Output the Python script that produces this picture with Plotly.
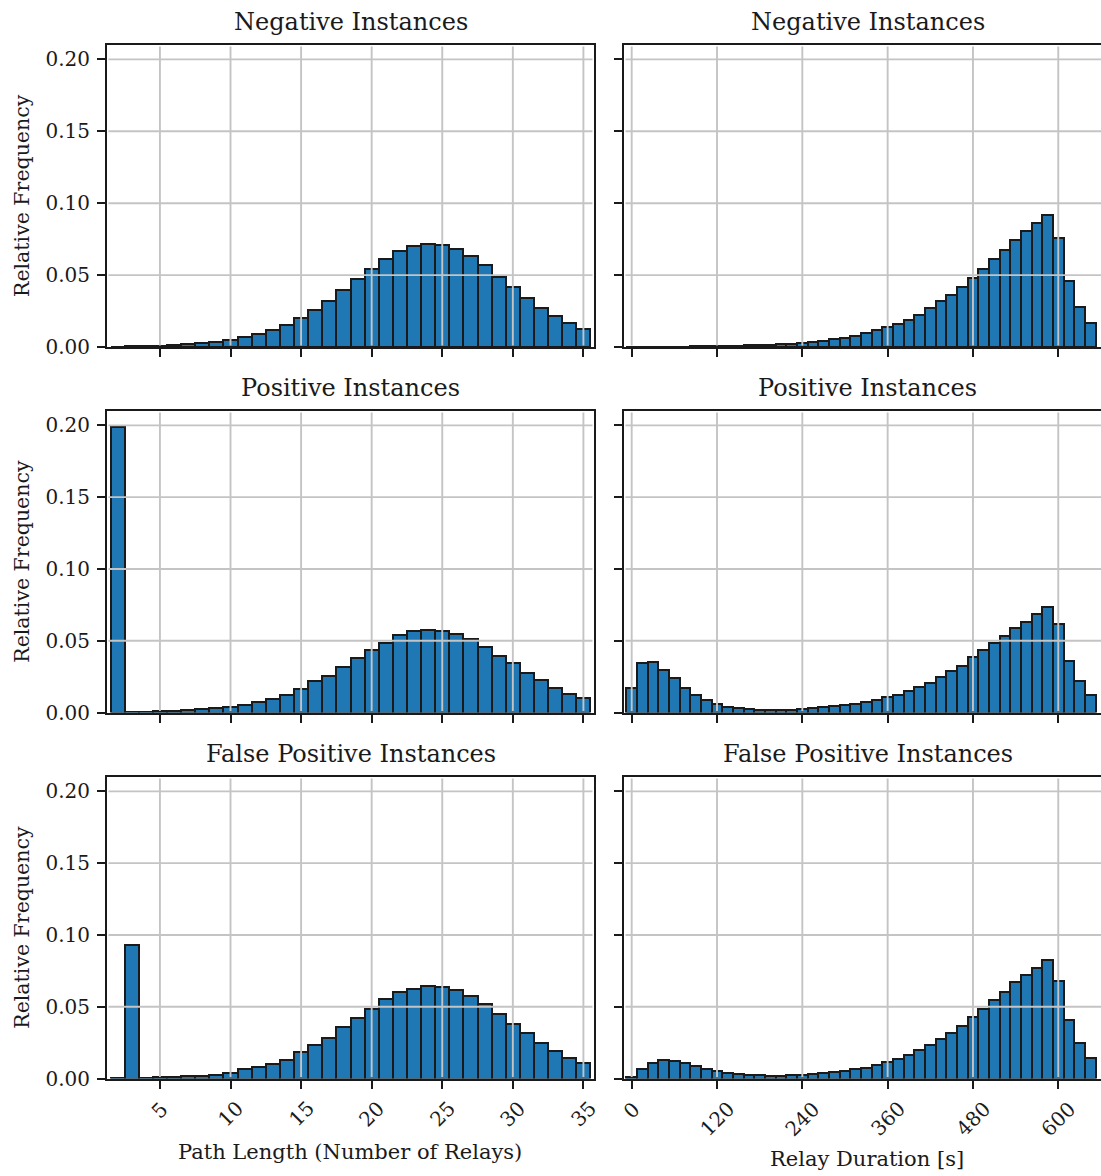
import plotly.graph_objects as go
from plotly.subplots import make_subplots

W, H = 1101, 1176

# ---- data -------------------------------------------------------------
# path length histogram, one bin per relay count (centred on 2..35)
path_len = list(range(2, 36))
neg_path = [0.0002, 0.0004, 0.0006, 0.0009, 0.0013, 0.0020, 0.0028, 0.0037, 0.0051, 0.0067,
            0.0088, 0.0118, 0.0155, 0.0204, 0.0258, 0.0323, 0.0397, 0.0470, 0.0545, 0.0610,
            0.0666, 0.0703, 0.0717, 0.0710, 0.0680, 0.0634, 0.0570, 0.0490, 0.0420, 0.0343,
            0.0274, 0.0216, 0.0165, 0.0123]
pos_path = [0.1990, 0.0004, 0.0006, 0.0009, 0.0012, 0.0018, 0.0023, 0.0030, 0.0040, 0.0053,
            0.0070, 0.0095, 0.0123, 0.0165, 0.0216, 0.0256, 0.0319, 0.0381, 0.0437, 0.0483,
            0.0537, 0.0565, 0.0574, 0.0567, 0.0549, 0.0514, 0.0455, 0.0397, 0.0346, 0.0272,
            0.0223, 0.0172, 0.0130, 0.0098]
fp_path = [0.0005, 0.0927, 0.0007, 0.0010, 0.0012, 0.0015, 0.0020, 0.0027, 0.0037, 0.0063,
           0.0079, 0.0102, 0.0132, 0.0186, 0.0232, 0.0283, 0.0360, 0.0423, 0.0483, 0.0557,
           0.0606, 0.0625, 0.0643, 0.0636, 0.0615, 0.0574, 0.0518, 0.0448, 0.0381, 0.0314,
           0.0244, 0.0193, 0.0146, 0.0105]

# relay duration histogram, 15 s bins centred on 0, 15, ..., 645
duration = list(range(0, 660, 15))
neg_dur = [0.0002, 0.0002, 0.0002, 0.0002, 0.0003, 0.0003, 0.0004, 0.0005, 0.0006, 0.0007,
           0.0009, 0.0011, 0.0013, 0.0016, 0.0020, 0.0024, 0.0029, 0.0036, 0.0043, 0.0054,
           0.0066, 0.0080, 0.0096, 0.0115, 0.0136, 0.0161, 0.0191, 0.0226, 0.0268, 0.0317,
           0.0361, 0.0416, 0.0482, 0.0542, 0.0609, 0.0677, 0.0742, 0.0804, 0.0862, 0.0918,
           0.0758, 0.0458, 0.0277, 0.0166]
pos_dur = [0.0174, 0.0347, 0.0354, 0.0296, 0.0237, 0.0174, 0.0123, 0.0084, 0.0058, 0.0040,
           0.0028, 0.0021, 0.0018, 0.0017, 0.0017, 0.0019, 0.0024, 0.0030, 0.0035, 0.0042,
           0.0049, 0.0058, 0.0070, 0.0089, 0.0105, 0.0123, 0.0151, 0.0177, 0.0207, 0.0244,
           0.0286, 0.0326, 0.0386, 0.0435, 0.0481, 0.0535, 0.0586, 0.0632, 0.0686, 0.0732,
           0.0616, 0.0360, 0.0216, 0.0123]
fp_dur = [0.0012, 0.0068, 0.0109, 0.0130, 0.0123, 0.0105, 0.0088, 0.0068, 0.0054, 0.0040,
          0.0031, 0.0024, 0.0021, 0.0019, 0.0019, 0.0021, 0.0026, 0.0031, 0.0035, 0.0042,
          0.0051, 0.0063, 0.0075, 0.0096, 0.0116, 0.0139, 0.0165, 0.0198, 0.0235, 0.0277,
          0.0314, 0.0369, 0.0428, 0.0486, 0.0546, 0.0604, 0.0674, 0.0720, 0.0769, 0.0827,
          0.0681, 0.0407, 0.0247, 0.0146]

row_titles = ["Negative Instances", "Positive Instances", "False Positive Instances"]
path_ticks = [5, 10, 15, 20, 25, 30, 35]
dur_ticks = [0, 120, 240, 360, 480, 600]
freq_ticks = [0.00, 0.05, 0.10, 0.15, 0.20]
x_labels = ["Path Length (Number of Relays)", "Relay Duration [s]"]
y_label = "Relative Frequency"

# ---- styling ----------------------------------------------------------
FONT = "DejaVu Serif"
INK = "#1a1a1a"
BAR = "#1f77b4"
GRID = "#c4c4c4"
TICK_FS = 20

# pixel layout of the panels
col_px = [(107, 594), (624, 1101)]
row_px = [(45, 347), (411, 712.5), (777, 1078.5)]
col_centre_px = [350.5, 867.5]
x_ranges = [[1.25, 35.75], [-10.83, 660.1]]
bar_widths = [1, 15]

fig = make_subplots(rows=3, cols=2)

panels = [
    [(path_len, neg_path), (duration, neg_dur)],
    [(path_len, pos_path), (duration, pos_dur)],
    [(path_len, fp_path), (duration, fp_dur)],
]

shapes = []
annotations = []

for r in range(3):
    top, bot = row_px[r]
    for c in range(2):
        idx = r * 2 + c + 1
        xs, ys = panels[r][c]
        fig.add_trace(
            go.Bar(x=xs, y=ys, width=bar_widths[c],
                   marker=dict(color=BAR, line=dict(color=INK, width=2)),
                   hoverinfo="x+y"),
            row=r + 1, col=c + 1)

        xt = path_ticks if c == 0 else dur_ticks
        xname = "xaxis" if idx == 1 else f"xaxis{idx}"
        yname = "yaxis" if idx == 1 else f"yaxis{idx}"
        x0p, x1p = col_px[c]
        fig.layout[xname].update(
            domain=[x0p / W, x1p / W], range=x_ranges[c], automargin=False,
            showline=True, linecolor=INK, linewidth=2, mirror=True,
            ticks="outside", ticklen=8, tickwidth=2, tickcolor=INK,
            tickvals=xt, showticklabels=False,
            showgrid=False, zeroline=False, fixedrange=True)
        fig.layout[yname].update(
            domain=[1 - bot / H, 1 - top / H], range=[0, 0.21], automargin=False,
            showline=True, linecolor=INK, linewidth=2, mirror=(c == 0),
            ticks="outside", ticklen=8, tickwidth=2, tickcolor=INK,
            tickvals=freq_ticks, ticktext=[f"{v:.2f}" for v in freq_ticks],
            showticklabels=(c == 0), ticklabelstandoff=3,
            tickfont=dict(family=FONT, size=TICK_FS, color=INK),
            showgrid=False, zeroline=False, fixedrange=True)

        xref = "x" if idx == 1 else f"x{idx}"
        yref = "y" if idx == 1 else f"y{idx}"
        # grid drawn on top of the bars
        hpad = 1.5 / (bot - top)
        wpad = 1.5 / (x1p - x0p)
        for v in xt:
            shapes.append(dict(type="line", layer="above", xref=xref, yref=f"{yref} domain",
                               x0=v, x1=v, y0=hpad, y1=1 - hpad,
                               line=dict(color=GRID, width=1.9)))
        for v in freq_ticks[1:]:
            shapes.append(dict(type="line", layer="above", xref=f"{xref} domain", yref=yref,
                               x0=wpad, x1=1 - wpad if c == 0 else 1, y0=v, y1=v,
                               line=dict(color=GRID, width=1.9)))

        # panel title
        annotations.append(dict(text=row_titles[r], xref="paper", yref="paper",
                                x=col_centre_px[c] / W, y=1 - (top - 23) / H,
                                xanchor="center", yanchor="middle", showarrow=False,
                                font=dict(family=FONT, size=24, color=INK)))

        # rotated tick labels on the bottom row
        if r == 2:
            for v in xt:
                annotations.append(dict(text=str(v), xref=xref, yref="paper",
                                        x=v, y=1 - 1094 / H, textangle=-45,
                                        xanchor="center", yanchor="top", showarrow=False,
                                        font=dict(family=FONT, size=TICK_FS, color=INK)))

    # y axis label for the row
    annotations.append(dict(text=y_label, xref="paper", yref="paper",
                            x=22 / W, y=1 - ((top + bot) / 2) / H, textangle=-90,
                            xanchor="center", yanchor="middle", showarrow=False,
                            font=dict(family=FONT, size=20.5, color=INK)))

# x axis labels
annotations.append(dict(text=x_labels[0], xref="paper", yref="paper",
                        x=350 / W, y=1 - 1152 / H, xanchor="center", yanchor="middle",
                        showarrow=False, font=dict(family=FONT, size=21, color=INK)))
annotations.append(dict(text=x_labels[1], xref="paper", yref="paper",
                        x=866.5 / W, y=1 - 1159 / H, xanchor="center", yanchor="middle",
                        showarrow=False, font=dict(family=FONT, size=21, color=INK)))

fig.update_layout(
    template="none",
    width=W, height=H, margin=dict(l=0, r=0, t=0, b=0, pad=0, autoexpand=False),
    plot_bgcolor="white", paper_bgcolor="white",
    showlegend=False, bargap=0,
    shapes=shapes, annotations=annotations,
    font=dict(family=FONT, color=INK),
)

fig.write_html("out.html")
